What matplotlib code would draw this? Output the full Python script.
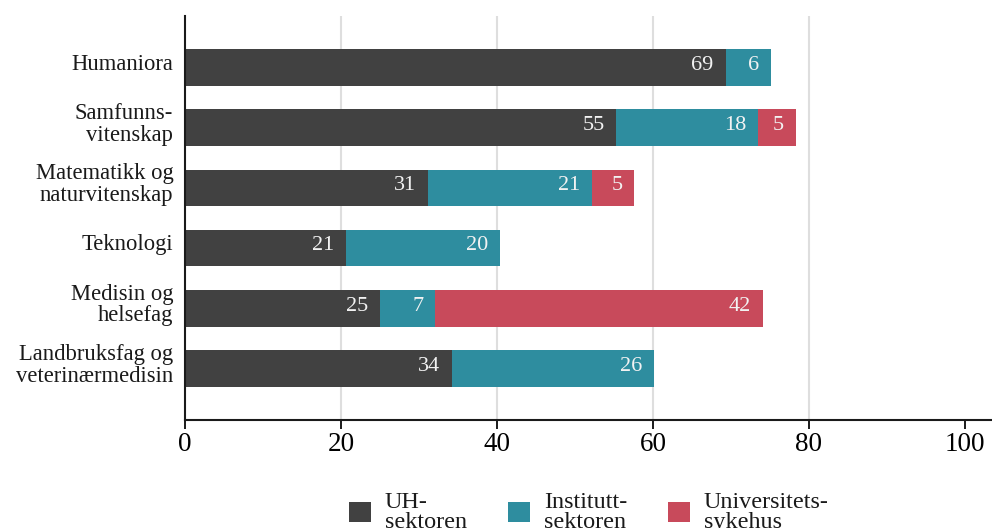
import numpy as np
import matplotlib.pyplot as plt

# Data (lest av fra figuren)
kategorier = ['Humaniora', 'Samfunns-\nvitenskap', 'Matematikk og\nnaturvitenskap',
              'Teknologi', 'Medisin og\nhelsefag', 'Landbruksfag og\nveterinærmedisin']
uh_sektoren = [69.3, 55.3, 31.2, 20.7, 25.0, 34.2]
institutt_sektoren = [5.8, 18.2, 21.0, 19.7, 7.1, 25.9]
universitetssykehus = [0, 4.8, 5.4, 0, 42.0, 0]
serie_navn = ['UH-\nsektoren', 'Institutt-\nsektoren', 'Universitets-\nsykehus']
x_ticks = [0, 20, 40, 60, 80, 100]

farger = ['#414141', '#2e8d9f', '#c84a5b']

plt.rcParams['font.family'] = ['Liberation Serif', 'DejaVu Serif']

fig = plt.figure(figsize=(9.92, 5.28), dpi=100)
ax = fig.add_axes([185 / 992, 108 / 528, 807 / 992, 404 / 528])

y = np.arange(len(kategorier))
venstre = np.zeros(len(kategorier))
handles = []
for verdier, navn, farge in zip([uh_sektoren, institutt_sektoren, universitetssykehus], serie_navn, farger):
    verdier = np.array(verdier, dtype=float)
    bars = ax.barh(y, verdier, left=venstre, height=0.61, color=farge, label=navn, zorder=2)
    handles.append(bars)
    for yi, v, l in zip(y, verdier, venstre):
        if v > 0:
            ax.annotate(f'{v:.0f}', xy=(l + v, yi), xytext=(-8.5, 1.5), textcoords='offset points',
                        ha='right', va='center', color='#f2f2f2', fontsize=16, zorder=3)
    venstre = venstre + verdier

# Gridlinjer (ikke ved 0 og 100)
for t in x_ticks[1:-1]:
    ax.axvline(t, color='#dedede', lw=1.5, zorder=0)

ax.set_xlim(0, 807 / 7.8)
ax.set_ylim(len(kategorier) - 0.14, -0.86)
ax.set_xticks(x_ticks)
# kategorinavnene sitter litt over midten av stolpene
ax.set_yticks(y - 0.1)
ax.set_yticklabels(kategorier)
for lbl in ax.get_yticklabels():
    lbl.set_linespacing(1.045)
    lbl.set_color('#1a1a1a')

ax.spines['top'].set_visible(False)
ax.spines['right'].set_visible(False)
for s in ['left', 'bottom']:
    ax.spines[s].set_linewidth(1.5)
    ax.spines[s].set_color('#1a1a1a')
ax.tick_params(axis='x', length=6.5, width=1.4, pad=2, labelsize=19.5, color='#1a1a1a')
ax.tick_params(axis='y', length=0, pad=8.4, labelsize=16.3)

leg = fig.legend(handles=handles, loc='upper left', bbox_to_anchor=(349 / 992, 1 - 492 / 528),
                 ncol=3, frameon=False, fontsize=17.4, handlelength=0.9, handleheight=0.9,
                 handletextpad=0.58, columnspacing=1.7, borderpad=0, borderaxespad=0)
for t in leg.get_texts():
    t.set_linespacing(0.93)
    t.set_color('#1a1a1a')

fig.savefig('out.png', dpi=100)
